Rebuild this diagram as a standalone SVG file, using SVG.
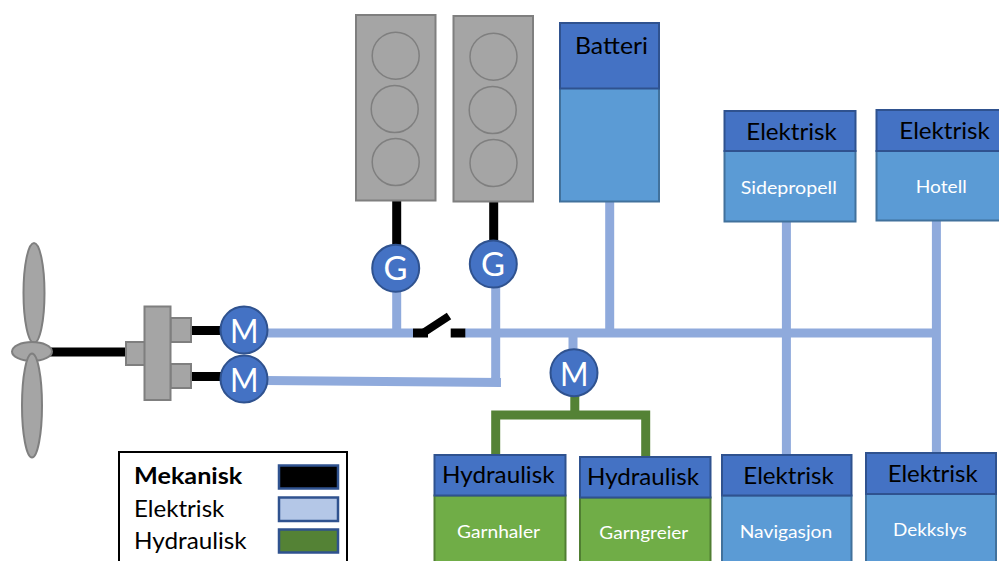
<svg xmlns="http://www.w3.org/2000/svg" width="999" height="561" viewBox="0 0 999 561">
<style>
text{font-family:Lato,"Liberation Sans",sans-serif}
.g{fill:#a5a5a5;stroke:#7f7f7f;stroke-width:2}
.c{fill:none;stroke:#7f7f7f;stroke-width:1.5}
.h{fill:#4472c4;stroke:#2f528f;stroke-width:2}
.b{fill:#5b9bd5;stroke:#41719c;stroke-width:2}
.n{fill:#70ad47;stroke:#507e32;stroke-width:2}
.e{fill:none;stroke:#8faadc;stroke-width:9}
.m{fill:none;stroke:#000;stroke-width:9}
.y{fill:none;stroke:#548235;stroke-width:9}
.t{font-size:23px;fill:#000}
.s{font-size:17.500px;fill:#fff}
.l{font-size:32px;fill:#fff}
.k{font-size:23px;fill:#000}
.w{stroke:#2f528f;stroke-width:2.5}
</style>
<g id="connectors">
<path class="m" d="M50 352H128M190 330.500H222M190 376.500H222M396.700 200V246M493.700 201V242"/>
<path class="e" d="M266 333H413M465 333H937M396.700 290V333M495.700 287V382M266 380.500L501 382.500M609.700 201V333M573 330V352M786.400 221V455M936.400 220V453"/>
<path class="y" d="M574.800 395V415M495.700 455V415H645.700V457"/>
<path class="m" d="M413 333H428M450.700 333H465.300"/>
<path d="M423 333L449 316" fill="none" stroke="#000" stroke-width="8"/>
</g>
<g id="propeller">
<ellipse class="g" cx="34" cy="293" rx="10.500" ry="50"/>
<ellipse class="g" cx="32" cy="351.500" rx="20" ry="9.500"/>
<ellipse class="g" cx="32" cy="405.500" rx="10" ry="52"/>
</g>
<g id="gear">
<rect class="g" x="126" y="342" width="19" height="23"/>
<rect class="g" x="170.500" y="318" width="20.500" height="24"/>
<rect class="g" x="170.500" y="364" width="20.500" height="24"/>
<rect class="g" x="144.500" y="306.500" width="26" height="93.500"/>
</g>
<g id="motor1"><circle class="h" cx="244" cy="330" r="23.500"/><text class="l" x="230" y="343" textLength="28.500" lengthAdjust="spacingAndGlyphs">M</text></g>
<g id="motor2"><circle class="h" cx="244" cy="379" r="23.500"/><text class="l" x="230" y="392" textLength="28.500" lengthAdjust="spacingAndGlyphs">M</text></g>
<g id="engine1">
<rect class="g" x="356" y="15" width="79.500" height="185.500"/>
<circle class="c" cx="395.700" cy="55.700" r="23.500"/><circle class="c" cx="394.700" cy="109" r="23.500"/><circle class="c" cx="395.700" cy="162" r="23.500"/>
</g>
<g id="engine2">
<rect class="g" x="453.500" y="16" width="79.500" height="185.500"/>
<circle class="c" cx="493.500" cy="56.700" r="23.500"/><circle class="c" cx="492.700" cy="110" r="23.500"/><circle class="c" cx="493.500" cy="163" r="23.500"/>
</g>
<g id="gen1"><circle class="h" cx="395.700" cy="268.300" r="23.500"/><text class="l" x="383.500" y="280" textLength="24" lengthAdjust="spacingAndGlyphs">G</text></g>
<g id="gen2"><circle class="h" cx="493.300" cy="264" r="23.500"/><text class="l" x="481" y="276" textLength="24" lengthAdjust="spacingAndGlyphs">G</text></g>
<g id="motor3"><circle class="h" cx="574" cy="372.700" r="23.500"/><text class="l" x="560" y="386" textLength="28.500" lengthAdjust="spacingAndGlyphs">M</text></g>
<g id="batteri">
<rect class="b" x="560" y="88" width="99" height="113.500"/>
<rect class="h" x="560" y="23" width="99" height="65.500"/>
<text class="t" x="575" y="54.300" textLength="73" lengthAdjust="spacingAndGlyphs">Batteri</text>
</g>
<g id="sidepropell">
<rect class="b" x="724.500" y="151" width="131" height="70.500"/>
<rect class="h" x="724.500" y="111" width="131" height="40"/>
<text class="t" x="746.300" y="140" textLength="90.500" lengthAdjust="spacingAndGlyphs">Elektrisk</text>
<text class="s" x="740.800" y="194" textLength="96" lengthAdjust="spacingAndGlyphs">Sidepropell</text>
</g>
<g id="hotell">
<rect class="b" x="876.500" y="151" width="131" height="69.500"/>
<rect class="h" x="876.500" y="110" width="131" height="41"/>
<text class="t" x="899.300" y="139" textLength="90.500" lengthAdjust="spacingAndGlyphs">Elektrisk</text>
<text class="s" x="915.700" y="193" textLength="51" lengthAdjust="spacingAndGlyphs">Hotell</text>
</g>
<g id="navigasjon">
<rect class="b" x="722" y="495.500" width="129.500" height="70"/>
<rect class="h" x="722" y="455" width="129.500" height="40.500"/>
<text class="t" x="743.300" y="483.700" textLength="90.500" lengthAdjust="spacingAndGlyphs">Elektrisk</text>
<text class="s" x="739.700" y="537.500" textLength="92.500" lengthAdjust="spacingAndGlyphs">Navigasjon</text>
</g>
<g id="dekkslys">
<rect class="b" x="866" y="494" width="130" height="70"/>
<rect class="h" x="866" y="453" width="130" height="41"/>
<text class="t" x="887.700" y="481.700" textLength="90" lengthAdjust="spacingAndGlyphs">Elektrisk</text>
<text class="s" x="893" y="536" textLength="73.700" lengthAdjust="spacingAndGlyphs">Dekkslys</text>
</g>
<g id="garnhaler">
<rect class="n" x="434.500" y="495.500" width="131" height="70"/>
<rect class="h" x="434.500" y="455" width="131" height="40.500"/>
<text class="t" x="442" y="483.300" textLength="112.500" lengthAdjust="spacingAndGlyphs">Hydraulisk</text>
<text class="s" x="457" y="537.500" textLength="83" lengthAdjust="spacingAndGlyphs">Garnhaler</text>
</g>
<g id="garngreier">
<rect class="n" x="580" y="497.500" width="130.500" height="70"/>
<rect class="h" x="580" y="457" width="130.500" height="40.500"/>
<text class="t" x="587" y="485.300" textLength="112" lengthAdjust="spacingAndGlyphs">Hydraulisk</text>
<text class="s" x="599.300" y="539.300" textLength="89" lengthAdjust="spacingAndGlyphs">Garngreier</text>
</g>
<g id="legend">
<rect x="119" y="452" width="228" height="115" fill="#fff" stroke="#000" stroke-width="2"/>
<text class="k" x="134" y="484.300" font-weight="700" textLength="108.300" lengthAdjust="spacingAndGlyphs">Mekanisk</text>
<text class="k" x="134" y="517.300" textLength="90.300" lengthAdjust="spacingAndGlyphs">Elektrisk</text>
<text class="k" x="134" y="549.300" textLength="112.700" lengthAdjust="spacingAndGlyphs">Hydraulisk</text>
<rect class="w" x="279" y="465.500" width="59" height="23" fill="#000"/>
<rect class="w" x="279" y="497.500" width="59" height="23.500" fill="#b4c7e7"/>
<rect class="w" x="279" y="529.500" width="59" height="23" fill="#548235"/>
</g>
</svg>
